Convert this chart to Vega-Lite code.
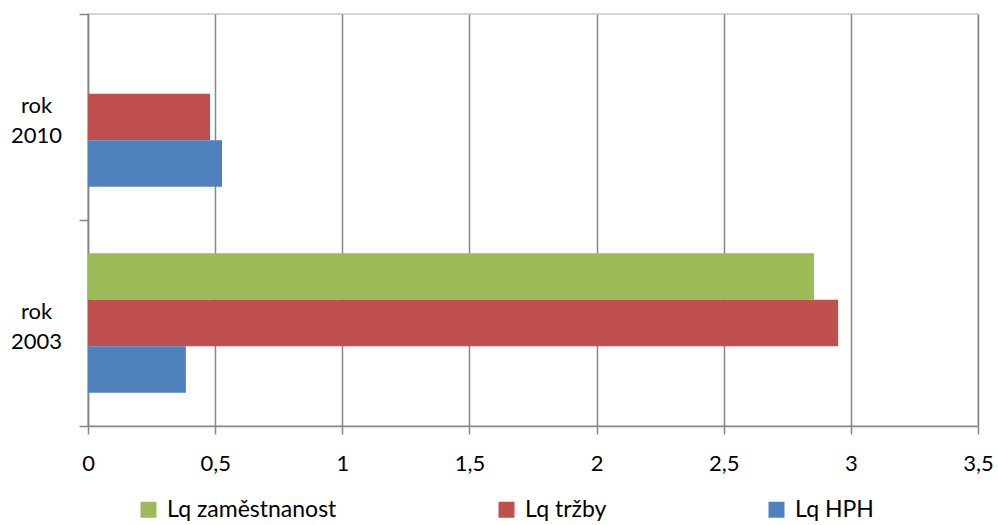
{
  "$schema": "https://vega.github.io/schema/vega-lite/v6.json",
  "autosize": "none",
  "width": 890,
  "height": 412,
  "padding": {"left": 88, "top": 14, "right": 20, "bottom": 99},
  "background": "white",
  "config": {
    "font": "Lato",
    "view": {"stroke": "#c8c8c8", "strokeWidth": 1.5}
  },
  "data": {
    "values": [
      {"rok": "rok 2010", "serie": "Lq zaměstnanost", "hodnota": 0},
      {"rok": "rok 2010", "serie": "Lq tržby", "hodnota": 0.48},
      {"rok": "rok 2010", "serie": "Lq HPH", "hodnota": 0.527},
      {"rok": "rok 2003", "serie": "Lq zaměstnanost", "hodnota": 2.855},
      {"rok": "rok 2003", "serie": "Lq tržby", "hodnota": 2.95},
      {"rok": "rok 2003", "serie": "Lq HPH", "hodnota": 0.385}
    ]
  },
  "mark": {"type": "bar", "cornerRadius": 0},
  "encoding": {
    "y": {
      "field": "rok",
      "type": "nominal",
      "sort": ["rok 2010", "rok 2003"],
      "scale": {"paddingInner": 0, "paddingOuter": 0},
      "axis": {
        "title": null,
        "tickBand": "extent",
        "tickSize": 9,
        "tickColor": "#868686",
        "tickWidth": 1.5,
        "domainColor": "#868686",
        "domainWidth": 1.5,
        "labelAlign": "center",
        "labelPadding": 43,
        "labelFontSize": 22,
        "labelColor": "#000000",
        "labelLineHeight": 30,
        "labelExpr": "split(datum.label, ' ')",
        "labelBaseline": "middle",
        "labelOffset": -12
      }
    },
    "yOffset": {
      "field": "serie",
      "type": "nominal",
      "sort": ["Lq zaměstnanost", "Lq tržby", "Lq HPH"],
      "scale": {"paddingInner": 0, "paddingOuter": 0.715}
    },
    "x": {
      "field": "hodnota",
      "type": "quantitative",
      "scale": {"domain": [0, 3.5], "nice": false},
      "axis": {
        "title": null,
        "values": [0, 0.5, 1, 1.5, 2, 2.5, 3, 3.5],
        "labelExpr": "replace(format(datum.value, '~r'), '.', ',')",
        "grid": true,
        "gridColor": "#868686",
        "gridWidth": 1.5,
        "tickColor": "#868686",
        "tickWidth": 1.5,
        "tickSize": 8,
        "domainColor": "#868686",
        "domainWidth": 1.5,
        "labelFontSize": 22,
        "labelColor": "#000000",
        "labelPadding": 19,
        "labelFlush": false
      }
    },
    "color": {
      "field": "serie",
      "type": "nominal",
      "sort": ["Lq zaměstnanost", "Lq tržby", "Lq HPH"],
      "scale": {"domain": ["Lq zaměstnanost", "Lq tržby", "Lq HPH"], "range": ["#9BBB59", "#C0504D", "#4F81BD"]},
      "legend": {
        "title": null,
        "orient": "none",
        "direction": "horizontal",
        "legendX": 49,
        "legendY": 484,
        "symbolType": "square",
        "symbolSize": 256,
        "symbolStrokeWidth": 0,
        "labelFontSize": 23,
        "labelLimit": 400,
        "labelColor": "#000000",
        "labelOffset": 7,
        "columnPadding": 158
      }
    }
  }
}
